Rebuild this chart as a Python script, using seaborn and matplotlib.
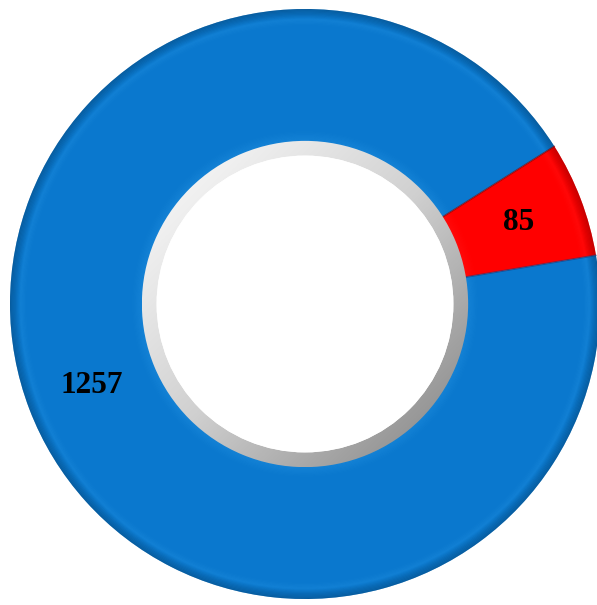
import numpy as np
import matplotlib
matplotlib.use("Agg")
import matplotlib.pyplot as plt
import seaborn as sns
from matplotlib.patches import Wedge, Circle

sns.set_theme(style="white")

labels = ["Blue", "Red"]
values = [1257, 85]
colors = ["#0A78CE", "#FF0000"]

fig = plt.figure(figsize=(5.97, 6.05), dpi=100)
fig.patch.set_facecolor("white")
ax = fig.add_axes([10 / 597, 6 / 605, 590 / 597, 590 / 605])

inner = 0.55
ring_w = 1 - inner

wedges, texts, autotexts = ax.pie(
    values, colors=colors, startangle=32.3, counterclock=True, radius=1.0,
    wedgeprops=dict(width=ring_w, edgecolor="none", linewidth=0),
    autopct=lambda p: f"{int(round(p * sum(values) / 100))}",
    pctdistance=(1 + inner) / 2,
    textprops=dict(fontfamily="Liberation Serif", fontweight="bold", fontsize=22.5, color="black"),
)
for t in autotexts:
    t.set_zorder(20)

ax.set_aspect("equal")
ax.axis("off")

# bevel shading on each wedge
for w, c in zip(wedges, colors):
    t1, t2 = w.theta1, w.theta2
    base = np.array(matplotlib.colors.to_rgb(c))
    light = np.clip(base + 0.25, 0, 1)
    dark = base * 0.55
    n = 8
    for i in range(n):
        r = 1.0 - i * 0.004
        ax.add_patch(Wedge((0, 0), r, t1, t2, width=0.004, facecolor=dark,
                           alpha=0.5 * (1 - i / n), edgecolor="none", zorder=5))
    for i in range(10):
        r = inner + 0.04 - i * 0.004
        ax.add_patch(Wedge((0, 0), r, t1, t2, width=0.004, facecolor=light,
                           alpha=0.18 * (i / 10), edgecolor="none", zorder=5))
    for i in range(10):
        r = 0.985 - i * 0.004
        ax.add_patch(Wedge((0, 0), r, t1, t2, width=0.004, facecolor=light,
                           alpha=0.12 * (1 - abs(i - 5) / 5), edgecolor="none", zorder=5))

# separator lines between wedges
for w in wedges:
    a = np.deg2rad(w.theta1)
    ax.plot([inner * np.cos(a), np.cos(a)], [inner * np.sin(a), np.sin(a)],
            color="#7a0000" if w is wedges[0] else "#0a3c80", lw=1.2, zorder=6, alpha=0.6)

# gray inner ring with diagonal gradient (light top-left, dark bottom-right)
gx, gy = np.meshgrid(np.linspace(-1, 1, 400), np.linspace(-1, 1, 400))
grad = gx + gy
grad = (grad - grad.min()) / (grad.max() - grad.min())
cmap = matplotlib.colors.LinearSegmentedColormap.from_list("g", ["#ffffff", "#d0d0d0", "#808080"])
ring_out = 0.553
im = ax.imshow(grad, extent=(-ring_out, ring_out, -ring_out, ring_out), origin="upper",
               cmap=cmap, zorder=7)
ring = Wedge((0, 0), ring_out, 0, 360, width=0.05, transform=ax.transData)
im.set_clip_path(ring)
ax.add_patch(Circle((0, 0), ring_out - 0.05, facecolor="white", edgecolor="none", zorder=8))
ax.set_xlim(-1, 1)
ax.set_ylim(-1, 1)

fig.savefig("out.png", dpi=100, facecolor="white")
